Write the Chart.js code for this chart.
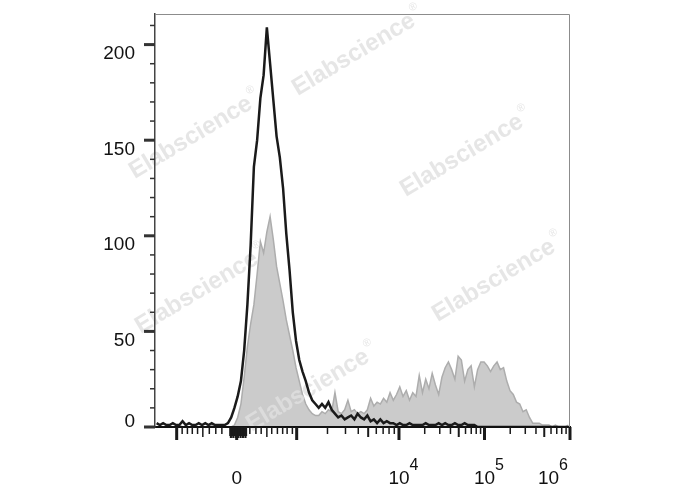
<!DOCTYPE html>
<html lang="en">
<head>
  <meta charset="UTF-8" />
  <title>Flow histogram</title>
  <script src="https://cdn.jsdelivr.net/npm/chart.js"></script>
  <style>
    body { margin: 0; background: #fff; }
  </style>
</head>
<body>
  <canvas id="histChart" width="688" height="490"></canvas>

  <script>
    // 128 bins of 8 display channels (0-1024 channel biex display)
    const binWidth = 8;

    // black open histogram (control)
    const controlCounts = [
      2, 1, 2, 1, 1, 2, 1, 1, 3, 1, 2, 1, 1, 2, 1, 2, 1, 2, 1, 1,
      1, 1, 2, 5, 10, 16, 24, 40, 64, 95, 136, 150, 172, 184, 209, 190,
      171, 152, 141, 125, 101, 82, 60, 45, 35, 29, 24, 18, 14, 12,
      10, 12, 10, 13, 9, 7, 5, 6, 4, 5, 6, 4, 7, 5, 4, 6, 3, 4, 2, 4,
      2, 3, 2, 2, 1, 2, 1, 1, 2, 1, 1, 1, 1, 2, 1, 1, 1, 2, 1, 2,
      1, 1, 2, 1, 1, 2, 1, 1, 1, 0, 0, 0, 0, 0, 0, 0, 0, 0, 0, 0,
      0, 0, 0, 0, 0, 0, 0, 0, 0, 0, 0, 0, 0, 0, 0, 0, 0, 0
    ];

    // grey filled histogram (stained sample)
    const stainedCounts = [
      0, 0, 0, 0, 0, 0, 0, 1, 0, 0, 0, 0, 0, 0, 0, 0, 0, 1, 0, 0,
      0, 0, 0, 0, 1, 5, 12, 26, 42, 54, 64, 80, 97, 91, 102, 110,
      98, 84, 75, 66, 56, 48, 40, 31, 24, 17, 12, 9, 7, 6,
      6, 8, 7, 9, 8, 18, 8, 7, 9, 14, 8, 9, 7, 8, 7, 9, 15, 11, 13, 12,
      15, 13, 18, 14, 17, 21, 16, 19, 14, 18, 16, 27, 18, 25, 20, 28, 22, 17, 26, 31,
      34, 30, 25, 37, 35, 24, 30, 32, 21, 30, 34, 34, 32, 29, 32, 34, 30, 31, 24, 19,
      17, 13, 12, 8, 9, 5, 2, 2, 2, 1, 1, 1, 0, 1, 0, 0, 0, 1
    ];

    // y axis
    const yMax = 216;
    const yTickLabels = [0, 50, 100, 150, 200];
    const yMinorStep = 10;

    // x axis: decade positions (in display channels)
    const xDecadeValues = [-1e3, 0, 1e3, 1e4, 1e5, 1e6];
    const xDecadeChannels = [53.5, 201.6, 349.6, 602, 813, 1024];
    // biex hundreds around zero (-900..-100, 100..900)
    const xNearZeroTicks = [67, 80, 92, 105, 118, 134, 150, 165, 234, 249, 262, 276, 288, 302, 315, 326, 339];
    const xNearZeroMid = [118, 276];
    const xZeroBand = [185, 226];
    const xLabelChannels = [201.6, 602, 813, 1024];
    const xLabelBase = ['0', '10', '10', '10'];
    const xLabelExp = ['', '4', '5', '6'];

    const watermarkText = 'Elabscience';
    const watermarkSpots = [[358, 52], [195, 135], [466, 153], [498, 278], [201, 290], [312, 388]];

    const FONT = '"Liberation Sans", Arial, sans-serif';
    Chart.defaults.font.family = FONT;

    const toPoints = counts => counts.map((c, i) => ({ x: i * binWidth + binWidth / 2, y: c }));

    // log minor ticks for the decades from 10^3 up
    const xLogMinor = [];
    for (let d = 2; d < xDecadeChannels.length - 1; d++) {
      const a = xDecadeChannels[d], b = xDecadeChannels[d + 1];
      for (let m = 2; m <= 9; m++) xLogMinor.push({ ch: a + Math.log10(m) * (b - a), mid: m === 5 });
    }

    const watermark = {
      id: 'watermark',
      afterDatasetDraw(chart, args) {
        if (args.index !== 1) return; // right after the grey fill, under the black line
        const { ctx } = chart;
        ctx.save();
        ctx.fillStyle = 'rgba(224,224,224,0.8)';
        watermarkSpots.forEach(([cx, cy]) => {
          ctx.save();
          ctx.translate(cx, cy);
          ctx.rotate(-31 * Math.PI / 180);
          ctx.font = 'bold 24px ' + FONT;
          const w = ctx.measureText(watermarkText).width;
          ctx.textBaseline = 'middle';
          ctx.fillText(watermarkText, -w / 2 - 5, 0);
          ctx.font = '11px ' + FONT;
          ctx.fillText('®', w / 2 - 3, -10);
          ctx.restore();
        });
        ctx.restore();
      }
    };

    const flowAxes = {
      id: 'flowAxes',
      afterDraw(chart) {
        const { ctx, chartArea: a, scales: { x, y } } = chart;
        ctx.save();

        // thin frame top / right
        ctx.strokeStyle = '#8c8c8c';
        ctx.lineWidth = 1;
        ctx.beginPath();
        ctx.moveTo(a.left, a.top + 0.5);
        ctx.lineTo(a.right - 0.5, a.top + 0.5);
        ctx.lineTo(a.right - 0.5, a.bottom);
        ctx.stroke();

        ctx.strokeStyle = '#1a1a1a';
        const tickX = (ch, len, w) => {
          const px = x.getPixelForValue(ch);
          ctx.lineWidth = w;
          ctx.beginPath();
          ctx.moveTo(px, a.bottom);
          ctx.lineTo(px, a.bottom + len);
          ctx.stroke();
        };
        const tickY = (v, len, w) => {
          const py = y.getPixelForValue(v);
          ctx.lineWidth = w;
          ctx.beginPath();
          ctx.moveTo(a.left, py);
          ctx.lineTo(a.left - len, py);
          ctx.stroke();
        };

        // x ticks
        xDecadeChannels.forEach(ch => tickX(ch, 13, 3));
        xNearZeroTicks.forEach(ch => tickX(ch, xNearZeroMid.includes(ch) ? 10 : 7, 1.5));
        for (let ch = xZeroBand[0]; ch <= xZeroBand[1]; ch += 1.5) tickX(ch, ch % 6 < 3 ? 11 : 9, 1.5);
        xLogMinor.forEach(t => tickX(t.ch, t.mid ? 10 : 7, t.mid ? 2 : 1.5));

        // y ticks
        ctx.strokeStyle = '#333';
        for (let v = 0; v <= yMax; v += yMinorStep) {
          const major = yTickLabels.includes(v);
          tickY(v, major ? 11 : 5, major ? 3 : 1.5);
        }

        // y labels: hang below the tick, except 0 which sits on the axis
        ctx.fillStyle = '#111';
        ctx.font = '19px ' + FONT;
        ctx.textAlign = 'right';
        ctx.textBaseline = 'alphabetic';
        yTickLabels.forEach(v => {
          const py = y.getPixelForValue(v);
          ctx.fillText(String(v), a.left - 20, v === 0 ? py : py + 14.5);
        });

        // x labels with superscript exponents
        ctx.textAlign = 'left';
        xLabelChannels.forEach((ch, i) => {
          const px = x.getPixelForValue(ch);
          ctx.font = '19px ' + FONT;
          const wb = ctx.measureText(xLabelBase[i]).width;
          ctx.font = '16px ' + FONT;
          const we = xLabelExp[i] ? ctx.measureText(xLabelExp[i]).width : 0;
          let left = px - wb / 2;
          if (left + wb + we > a.right - 2) left = a.right - 2 - wb - we;
          ctx.font = '19px ' + FONT;
          ctx.fillText(xLabelBase[i], left, 484);
          if (xLabelExp[i]) {
            ctx.font = '16px ' + FONT;
            ctx.fillText(xLabelExp[i], left + wb, 470);
          }
        });

        ctx.restore();
      }
    };

    new Chart(document.getElementById('histChart'), {
      type: 'line',
      data: {
        datasets: [
          {
            label: 'Control',
            data: toPoints(controlCounts),
            borderColor: '#1a1a1a',
            borderWidth: 2.5,
            pointRadius: 0,
            fill: false,
            tension: 0
          },
          {
            label: 'Stained',
            data: toPoints(stainedCounts),
            borderColor: '#adadad',
            backgroundColor: '#cbcbcb',
            borderWidth: 1.5,
            pointRadius: 0,
            fill: 'origin',
            tension: 0
          }
        ]
      },
      options: {
        responsive: false,
        animation: false,
        events: [],
        layout: { padding: { top: 14, right: 118, left: 0, bottom: 0 } },
        plugins: { legend: { display: false }, tooltip: { enabled: false } },
        scales: {
          x: {
            type: 'linear',
            min: 0,
            max: 1024,
            ticks: { display: false },
            grid: { display: false },
            border: { color: '#111', width: 2, z: 1 },
            afterFit: s => { s.height = 63; }
          },
          y: {
            min: 0,
            max: yMax,
            ticks: { display: false },
            grid: { display: false },
            border: { color: '#444', width: 1.5, z: 1 },
            afterFit: s => { s.width = 155; }
          }
        }
      },
      plugins: [watermark, flowAxes]
    });
  </script>
</body>
</html>
